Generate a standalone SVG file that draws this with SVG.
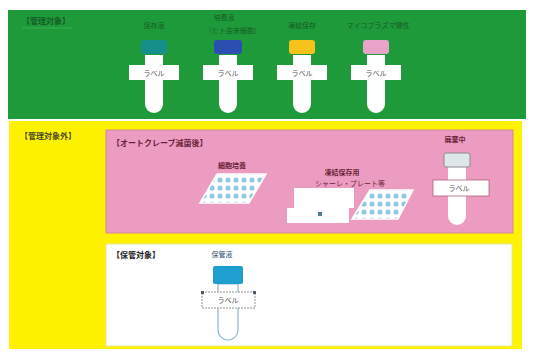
<svg xmlns="http://www.w3.org/2000/svg" width="538" height="354" viewBox="0 0 538 354">
  <defs>
    <style>
      .t { font-family: "Noto Sans CJK JP", "Noto Sans", sans-serif; }
      .hd { font-size: 8px; font-weight: bold; }
      .sm { font-size: 7px; }
      .lab { font-size: 7px; fill: #555; }
      .tube { fill: #ffffff; }
      .labelbox { fill: #ffffff; }
    </style>
    <!-- tube body: 18 wide, rounded bottom, origin at top centre -->
    <path id="tubeBody" d="M -9 0 L 9 0 L 9 49 A 9 9 0 0 1 -9 49 Z"/>
    <pattern id="dots" width="8" height="8" patternUnits="userSpaceOnUse">
      <rect width="8" height="8" fill="#ffffff"/>
      <circle cx="4" cy="4" r="2.6" fill="#8fc9df"/>
    </pattern>
  </defs>

  <!-- background panels -->
  <rect x="0" y="0" width="538" height="354" fill="#ffffff"/>
  <rect x="8" y="10" width="518" height="109" fill="#1f9a3a"/>
  <rect x="9" y="121" width="513" height="228" fill="#fff200"/>
  <rect x="106" y="130" width="407" height="103" fill="#eb9cc0" stroke="#d8849f" stroke-width="1"/>
  <rect x="106" y="244" width="406" height="102" fill="#ffffff" stroke="#e6e6a0" stroke-width="1"/>

  <!-- managed samples -->
  <g id="managed">
    <text class="t hd" x="22" y="24" fill="#155e26">【管理対象】</text>
    <line x1="22" y1="28" x2="72" y2="28" stroke="#3fb55a" stroke-width="0.8"/>
  </g>

  <g id="tube-teal">
    <text class="t sm" x="154" y="28" text-anchor="middle" fill="#155e26">保存液</text>
    <use href="#tubeBody" x="154" y="55" class="tube"/>
    <rect x="141" y="40" width="26" height="14" rx="3" fill="#168f8a"/>
    <rect x="129" y="65" width="50" height="15" class="labelbox"/>
    <text class="t lab" x="154" y="75.5" text-anchor="middle">ラベル</text>
  </g>

  <g id="tube-blue">
    <text class="t sm" x="224" y="20" text-anchor="middle" fill="#155e26">培養液</text>
    <text class="t sm" x="233" y="33" text-anchor="middle" fill="#155e26">（ヒト由来細胞）</text>
    <use href="#tubeBody" x="228" y="55" class="tube"/>
    <rect x="214" y="40" width="28" height="14" rx="3" fill="#2a4fb0"/>
    <rect x="203" y="65" width="50" height="15" class="labelbox"/>
    <text class="t lab" x="228" y="75.5" text-anchor="middle">ラベル</text>
  </g>

  <g id="tube-yellow">
    <text class="t sm" x="302" y="28" text-anchor="middle" fill="#155e26">凍結保存</text>
    <use href="#tubeBody" x="302" y="55" class="tube"/>
    <rect x="289" y="40" width="26" height="14" rx="3" fill="#f6c21c"/>
    <rect x="277" y="65" width="50" height="15" class="labelbox"/>
    <text class="t lab" x="302" y="75.5" text-anchor="middle">ラベル</text>
  </g>

  <g id="tube-pink">
    <text class="t sm" x="378" y="28" text-anchor="middle" fill="#155e26">マイコプラズマ陽性</text>
    <use href="#tubeBody" x="376" y="55" class="tube"/>
    <rect x="363" y="40" width="26" height="14" rx="3" fill="#e7a3c8"/>
    <rect x="351" y="65" width="50" height="15" class="labelbox"/>
    <text class="t lab" x="376" y="75.5" text-anchor="middle">ラベル</text>
  </g>

  <!-- non-managed samples -->
  <g id="unmanaged">
    <text class="t hd" x="20" y="139" fill="#4a4a20">【管理対象外】</text>
  </g>

  <g id="autoclaved">
    <text class="t hd" x="112" y="146" fill="#6b1f3a">【オートクレーブ滅菌後】</text>
  </g>

  <g id="culture-plate">
    <text class="t sm" x="232" y="168" text-anchor="middle" fill="#6b1f3a" font-weight="bold">細胞培養</text>
    <polygon points="217,174 266,174 249,203 200,203" fill="url(#dots)" stroke="#ffffff" stroke-width="1.5"/>
  </g>

  <g id="frozen-ware">
    <text class="t sm" x="342" y="175" text-anchor="middle" fill="#6b1f3a" font-weight="bold">凍結保存用</text>
    <text class="t sm" x="350" y="186" text-anchor="middle" fill="#6b1f3a">シャーレ・プレート等</text>
    <rect x="294" y="188" width="60" height="20" fill="#ffffff"/>
    <rect x="287" y="208" width="62" height="15" fill="#ffffff"/>
    <rect x="318" y="212" width="4" height="4" fill="#5a7a8a"/>
    <polygon points="370,190 413,190 398,219 352,219" fill="url(#dots)" stroke="#ffffff" stroke-width="1.5"/>
  </g>

  <g id="tube-waste">
    <text class="t sm" x="455" y="142" text-anchor="middle" fill="#6b1f3a" font-weight="bold">廃棄中</text>
    <use href="#tubeBody" x="457" y="167" class="tube"/>
    <rect x="444" y="153" width="26" height="14" rx="2" fill="#dfe6ea" stroke="#8a8a8a" stroke-width="1"/>
    <rect x="433" y="180" width="56" height="16" class="labelbox" stroke="#b06080" stroke-width="0.8"/>
    <text class="t lab" x="459" y="191" text-anchor="middle">ラベル</text>
  </g>

  <!-- stored samples -->
  <g id="stored">
    <text class="t hd" x="112" y="258" fill="#1a1a1a">【保管対象】</text>
  </g>

  <g id="tube-stored">
    <text class="t sm" x="222" y="257" text-anchor="middle" fill="#2a4a6a">保管液</text>
    <path d="M 218 284 L 238 284 L 238 330 A 10 10 0 0 1 218 330 Z" fill="#ffffff" stroke="#8fb8d0" stroke-width="1.2"/>
    <rect x="213" y="266" width="30" height="18" rx="2" fill="#1e9fcf"/>
    <rect x="202" y="292" width="53" height="16" fill="#ffffff" stroke="#7a7a7a" stroke-width="0.8" stroke-dasharray="2 1"/>
    <rect x="201" y="291" width="3" height="3" fill="#4a5a6a"/>
    <rect x="253" y="291" width="3" height="3" fill="#4a5a6a"/>
    <text class="t lab" x="228" y="303" text-anchor="middle">ラベル</text>
  </g>
</svg>
